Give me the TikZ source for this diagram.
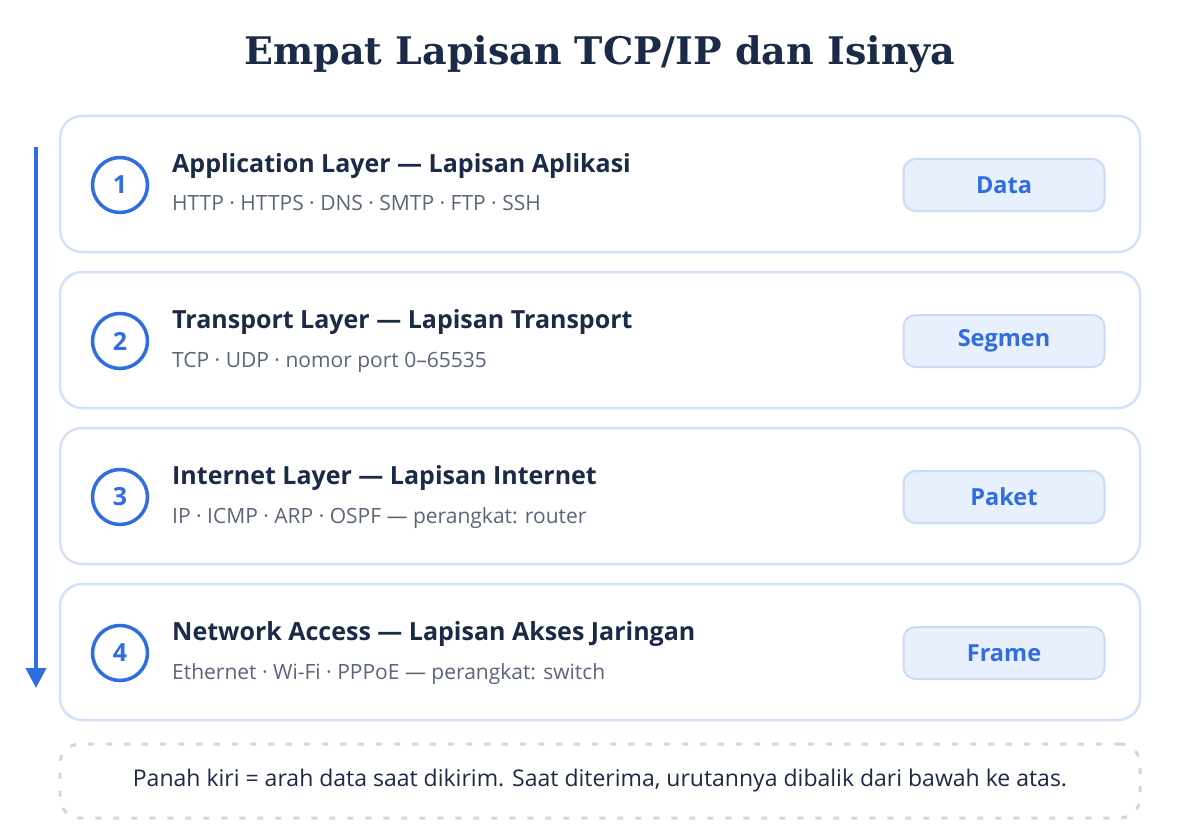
\documentclass[tikz,border=0pt]{standalone}
\usepackage{fontspec}
\setmainfont{Open Sans}
\newfontfamily\titlefont{DejaVu Serif}
\usetikzlibrary{arrows.meta}

\definecolor{navy}{HTML}{1B2A47}
\definecolor{accent}{HTML}{2F6DE1}
\definecolor{grey}{HTML}{5B6579}
\definecolor{cardline}{HTML}{D3E2F8}
\definecolor{badgefill}{HTML}{E8F0FD}
\definecolor{badgeline}{HTML}{C9DBF6}
\definecolor{noteline}{HTML}{D3D6DB}

\tikzset{
    card/.style={draw=cardline, line width=2.5pt, fill=white, rounded corners=22pt, minimum width=1080pt, minimum height=136pt},
    num/.style={circle, draw=accent, line width=3.5pt, minimum size=55pt, inner sep=0pt, text=accent, font=\bfseries\fontsize{25}{29}\selectfont},
    head/.style={anchor=base west, inner sep=0pt, text=navy, font=\bfseries\fontsize{25}{30}\selectfont},
    sub/.style={anchor=base west, inner sep=0pt, text=grey, font=\fontsize{21}{25}\selectfont},
    badge/.style={draw=badgeline, fill=badgefill, line width=2pt, rounded corners=12pt, minimum width=201pt, minimum height=52pt, text=accent, font=\bfseries\fontsize{23.5}{28}\selectfont},
    note/.style={draw=noteline, line width=3pt, dash pattern=on 6pt off 12pt, rounded corners=20pt, minimum width=1080pt, minimum height=74pt, text=navy, font=\fontsize{23}{27}\selectfont}
}

\begin{document}
\begin{tikzpicture}[x=1pt, y=-1pt]
    \useasboundingbox [fill=white] (0,0) rectangle (1200,840);

    % Title
    \node [text=navy, font=\titlefont\bfseries\fontsize{38}{44}\selectfont] (title) at (600,54) {Empat Lapisan TCP/IP dan Isinya};

    %% Layer 1
    \node [card] (card1) at (600,184) {};
    \node [num] (num1) at (120,185) {1};
    \node [head] (head1) at (172,172) {Application Layer — Lapisan Aplikasi};
    \node [sub] (sub1) at (172,211) {HTTP · HTTPS · DNS · SMTP · FTP · SSH};
    \node [badge] (unit1) at (1004,185) {Data};

    %% Layer 2
    \node [card] (card2) at (600,340) {};
    \node [num] (num2) at (120,341) {2};
    \node [head] (head2) at (172,328) {Transport Layer — Lapisan Transport};
    \node [sub] (sub2) at (172,367) {TCP · UDP · nomor port 0--65535};
    \node [badge] (unit2) at (1004,341) {Segmen};

    %% Layer 3
    \node [card] (card3) at (600,496) {};
    \node [num] (num3) at (120,497) {3};
    \node [head] (head3) at (172,484) {Internet Layer — Lapisan Internet};
    \node [sub] (sub3) at (172,523) {IP · ICMP · ARP · OSPF — perangkat: router};
    \node [badge] (unit3) at (1004,497) {Paket};

    %% Layer 4
    \node [card] (card4) at (600,652) {};
    \node [num] (num4) at (120,653) {4};
    \node [head] (head4) at (172,640) {Network Access — Lapisan Akses Jaringan};
    \node [sub] (sub4) at (172,679) {Ethernet · Wi-Fi · PPPoE — perangkat: switch};
    \node [badge] (unit4) at (1004,653) {Frame};

    % Sending direction
    \coordinate (flowtop) at (36,147);
    \coordinate (flowend) at (36,688);
    \draw [accent, line width=4pt, -{Triangle[length=20pt, width=20pt]}] (flowtop) -- (flowend);

    % Note
    \node [note] (remark) at (600,781) {Panah kiri = arah data saat dikirim. Saat diterima, urutannya dibalik dari bawah ke atas.};
\end{tikzpicture}
\end{document}
